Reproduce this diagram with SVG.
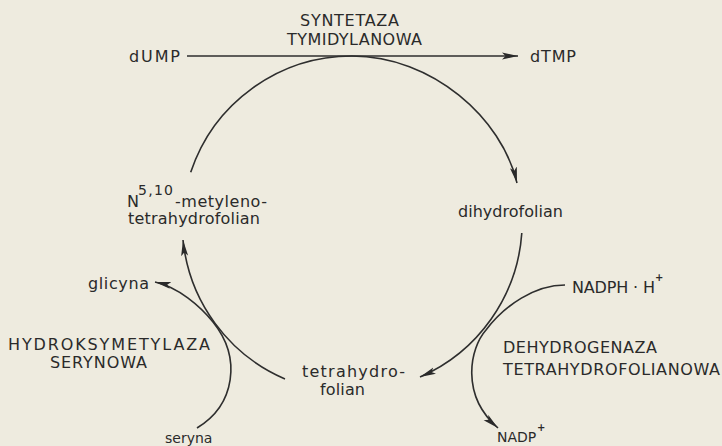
<svg xmlns="http://www.w3.org/2000/svg" width="722" height="446" viewBox="0 0 722 446">
<defs>
<style>
text{font-family:"DejaVu Sans","Liberation Sans",sans-serif;font-size:16px;fill:#2a2a2a}
.sup{font-size:14px}
.plus{font-size:10px;font-weight:bold}
.sm{font-size:14px}
.ln{fill:none;stroke:#2e2e2e;stroke-width:1.6}
</style>
<marker id="ah" markerUnits="userSpaceOnUse" markerWidth="17" markerHeight="9" refX="16" refY="4.5" orient="auto">
<path d="M0,1 L16,4.5 L0,8 L3.5,4.5 Z" fill="#2a2a2a"/>
</marker>
</defs>
<rect width="722" height="446" fill="#eeebdf"/>
<g id="connectors">
<path class="ln" d="M187,56 L518,56" marker-end="url(#ah)"/>
<path class="ln" d="M190.7,172.3 A170,170 0 0 1 352,56 C432,56 502,118 517,183" marker-end="url(#ah)"/>
<path class="ln" d="M521.8,233 A170,170 0 0 1 420,377" marker-end="url(#ah)"/>
<path class="ln" d="M285,379 A170,170 0 0 1 183,240" marker-end="url(#ah)"/>
<path class="ln" d="M197,428 C235,405 242,358 213,322 C200,306 178,287 155,282" marker-end="url(#ah)"/>
<path class="ln" d="M565,285 C535,285 505,305 486,330 C470,348 460,395 498,428" marker-end="url(#ah)"/>
</g>
<g id="enzyme-synthase">
<text x="300" y="26" textLength="99" lengthAdjust="spacing">SYNTETAZA</text>
<text x="287" y="45" textLength="135" lengthAdjust="spacing">TYMIDYLANOWA</text>
</g>
<g id="dUMP"><text x="129" y="62" textLength="51" lengthAdjust="spacing">dUMP</text></g>
<g id="dTMP"><text x="530" y="62" textLength="46" lengthAdjust="spacing">dTMP</text></g>
<g id="methylene-thf">
<text x="127" y="207">N</text>
<text class="sup" x="138" y="195" textLength="35" lengthAdjust="spacing">5,10</text>
<text x="175" y="207" textLength="92" lengthAdjust="spacing">-metyleno-</text>
<text x="128" y="224" textLength="132" lengthAdjust="spacing">tetrahydrofolian</text>
</g>
<g id="dihydrofolian"><text x="458" y="217" textLength="105" lengthAdjust="spacing">dihydrofolian</text></g>
<g id="nadph">
<text x="572" y="293" textLength="83" lengthAdjust="spacing">NADPH · H</text>
<text class="plus" x="655" y="281">+</text>
</g>
<g id="glicyna"><text x="88" y="289" textLength="61" lengthAdjust="spacing">glicyna</text></g>
<g id="enzyme-hydroxymethylase">
<text x="8" y="350" textLength="202" lengthAdjust="spacing">HYDROKSYMETYLAZA</text>
<text x="50" y="368" textLength="97" lengthAdjust="spacing">SERYNOWA</text>
</g>
<g id="seryna"><text class="sm" x="165" y="443">seryna</text></g>
<g id="tetrahydrofolian">
<text x="302" y="377" textLength="103" lengthAdjust="spacing">tetrahydro-</text>
<text x="320" y="395" textLength="45" lengthAdjust="spacing">folian</text>
</g>
<g id="enzyme-dehydrogenase">
<text x="503" y="353" textLength="154" lengthAdjust="spacing">DEHYDROGENAZA</text>
<text x="503" y="375" textLength="217" lengthAdjust="spacing">TETRAHYDROFOLIANOWA</text>
</g>
<g id="nadp">
<text class="sm" x="497" y="442">NADP</text>
<text class="plus" x="537" y="431">+</text>
</g>
</svg>
